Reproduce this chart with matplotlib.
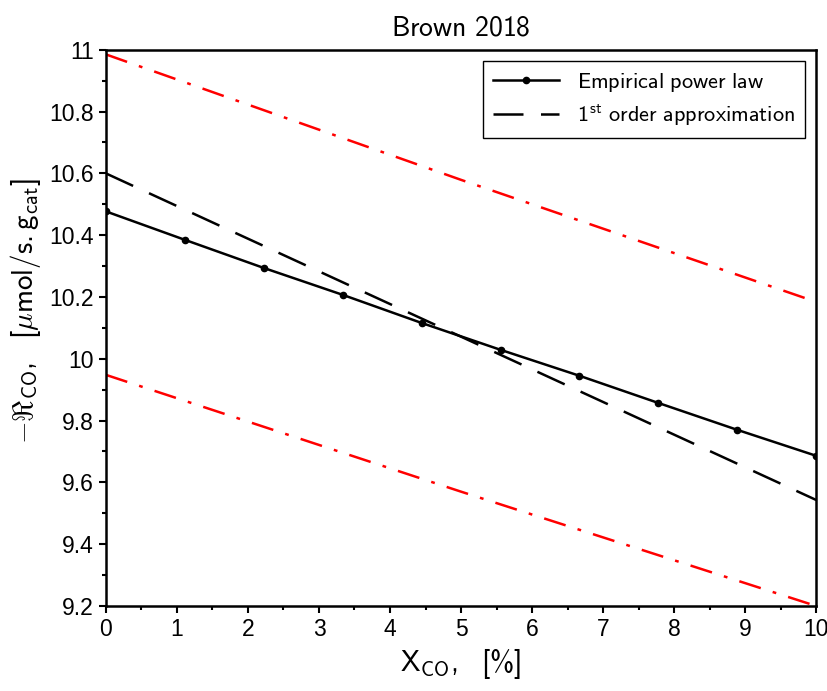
import numpy as np
import matplotlib
matplotlib.use("Agg")
import matplotlib.pyplot as plt

# values
x_emp = [0, 1.111, 2.222, 3.333, 4.444, 5.556, 6.667, 7.778, 8.889, 10]
y_emp = [10.477, 10.385, 10.294, 10.207, 10.116, 10.029, 9.945, 9.857, 9.770, 9.686]

x_lin = [0, 10]
y_lin = [10.600, 9.543]

x_band = [0, 5, 10]
y_upper = [10.985, 10.579, 10.184]
y_lower = [9.948, 9.570, 9.200]

plt.rcParams['font.family'] = ['DejaVu Sans']
plt.rcParams['mathtext.fontset'] = 'custom'
plt.rcParams['mathtext.rm'] = 'cmss10'
plt.rcParams['mathtext.sf'] = 'cmss10'
plt.rcParams['mathtext.it'] = 'cmmi10'
plt.rcParams['mathtext.fallback'] = 'cm'

fig = plt.figure(figsize=(8.27, 6.91), dpi=100)
ax = fig.add_axes([0.128, 0.123, 0.859, 0.805])

ax.plot(x_band, y_upper, color='red', lw=1.8, dashes=(9, 5, 1.5, 5))
ax.plot(x_band, y_lower, color='red', lw=1.8, dashes=(9, 5, 1.5, 5))
ax.plot(x_emp, y_emp, color='black', lw=1.8, marker='o', ms=4.5,
        label=r'$\mathrm{Empirical\ power\ law}$')
ax.plot(x_lin, y_lin, color='black', lw=1.8, dashes=(12, 7),
        label=r'$\mathrm{1^{st}\ order\ approximation}$')

ax.set_xlim(0, 10)
ax.set_ylim(9.2, 11)
ax.set_xticks(np.arange(0, 11, 1))
ax.set_xticks(np.arange(0.5, 10, 1), minor=True)
ax.set_yticks(np.arange(9.2, 11.01, 0.2))
ax.set_yticks(np.arange(9.3, 11, 0.2), minor=True)
ax.set_yticklabels(['9.2', '9.4', '9.6', '9.8', '10', '10.2', '10.4', '10.6', '10.8', '11'])

for lab in ax.get_xticklabels() + ax.get_yticklabels():
    lab.set_family('Liberation Sans')
    lab.set_fontsize(16.5)

ax.tick_params(which='major', direction='out', length=5, width=1.5)
ax.tick_params(which='minor', direction='out', length=3, width=1.5)
for s in ax.spines.values():
    s.set_linewidth(1.8)

ax.set_title(r'$\mathrm{Brown\ 2018}$', fontsize=20, pad=10)
ax.set_xlabel(r'$\mathrm{X_{CO},\ \ [\%]}$', fontsize=21, labelpad=4)
ax.set_ylabel(r'$-\Re_{\mathrm{CO}},\ \ [\mu\mathrm{mol/s.g_{cat}}]$', fontsize=21)
ax.yaxis.set_label_coords(-0.088, 0.53)

leg = ax.legend(loc='upper right', fontsize=16, fancybox=False, framealpha=1,
                edgecolor='black', handlelength=3.0, borderpad=0.45,
                labelspacing=0.35)
leg.get_frame().set_linewidth(1.0)

fig.savefig('out.png', dpi=100)
